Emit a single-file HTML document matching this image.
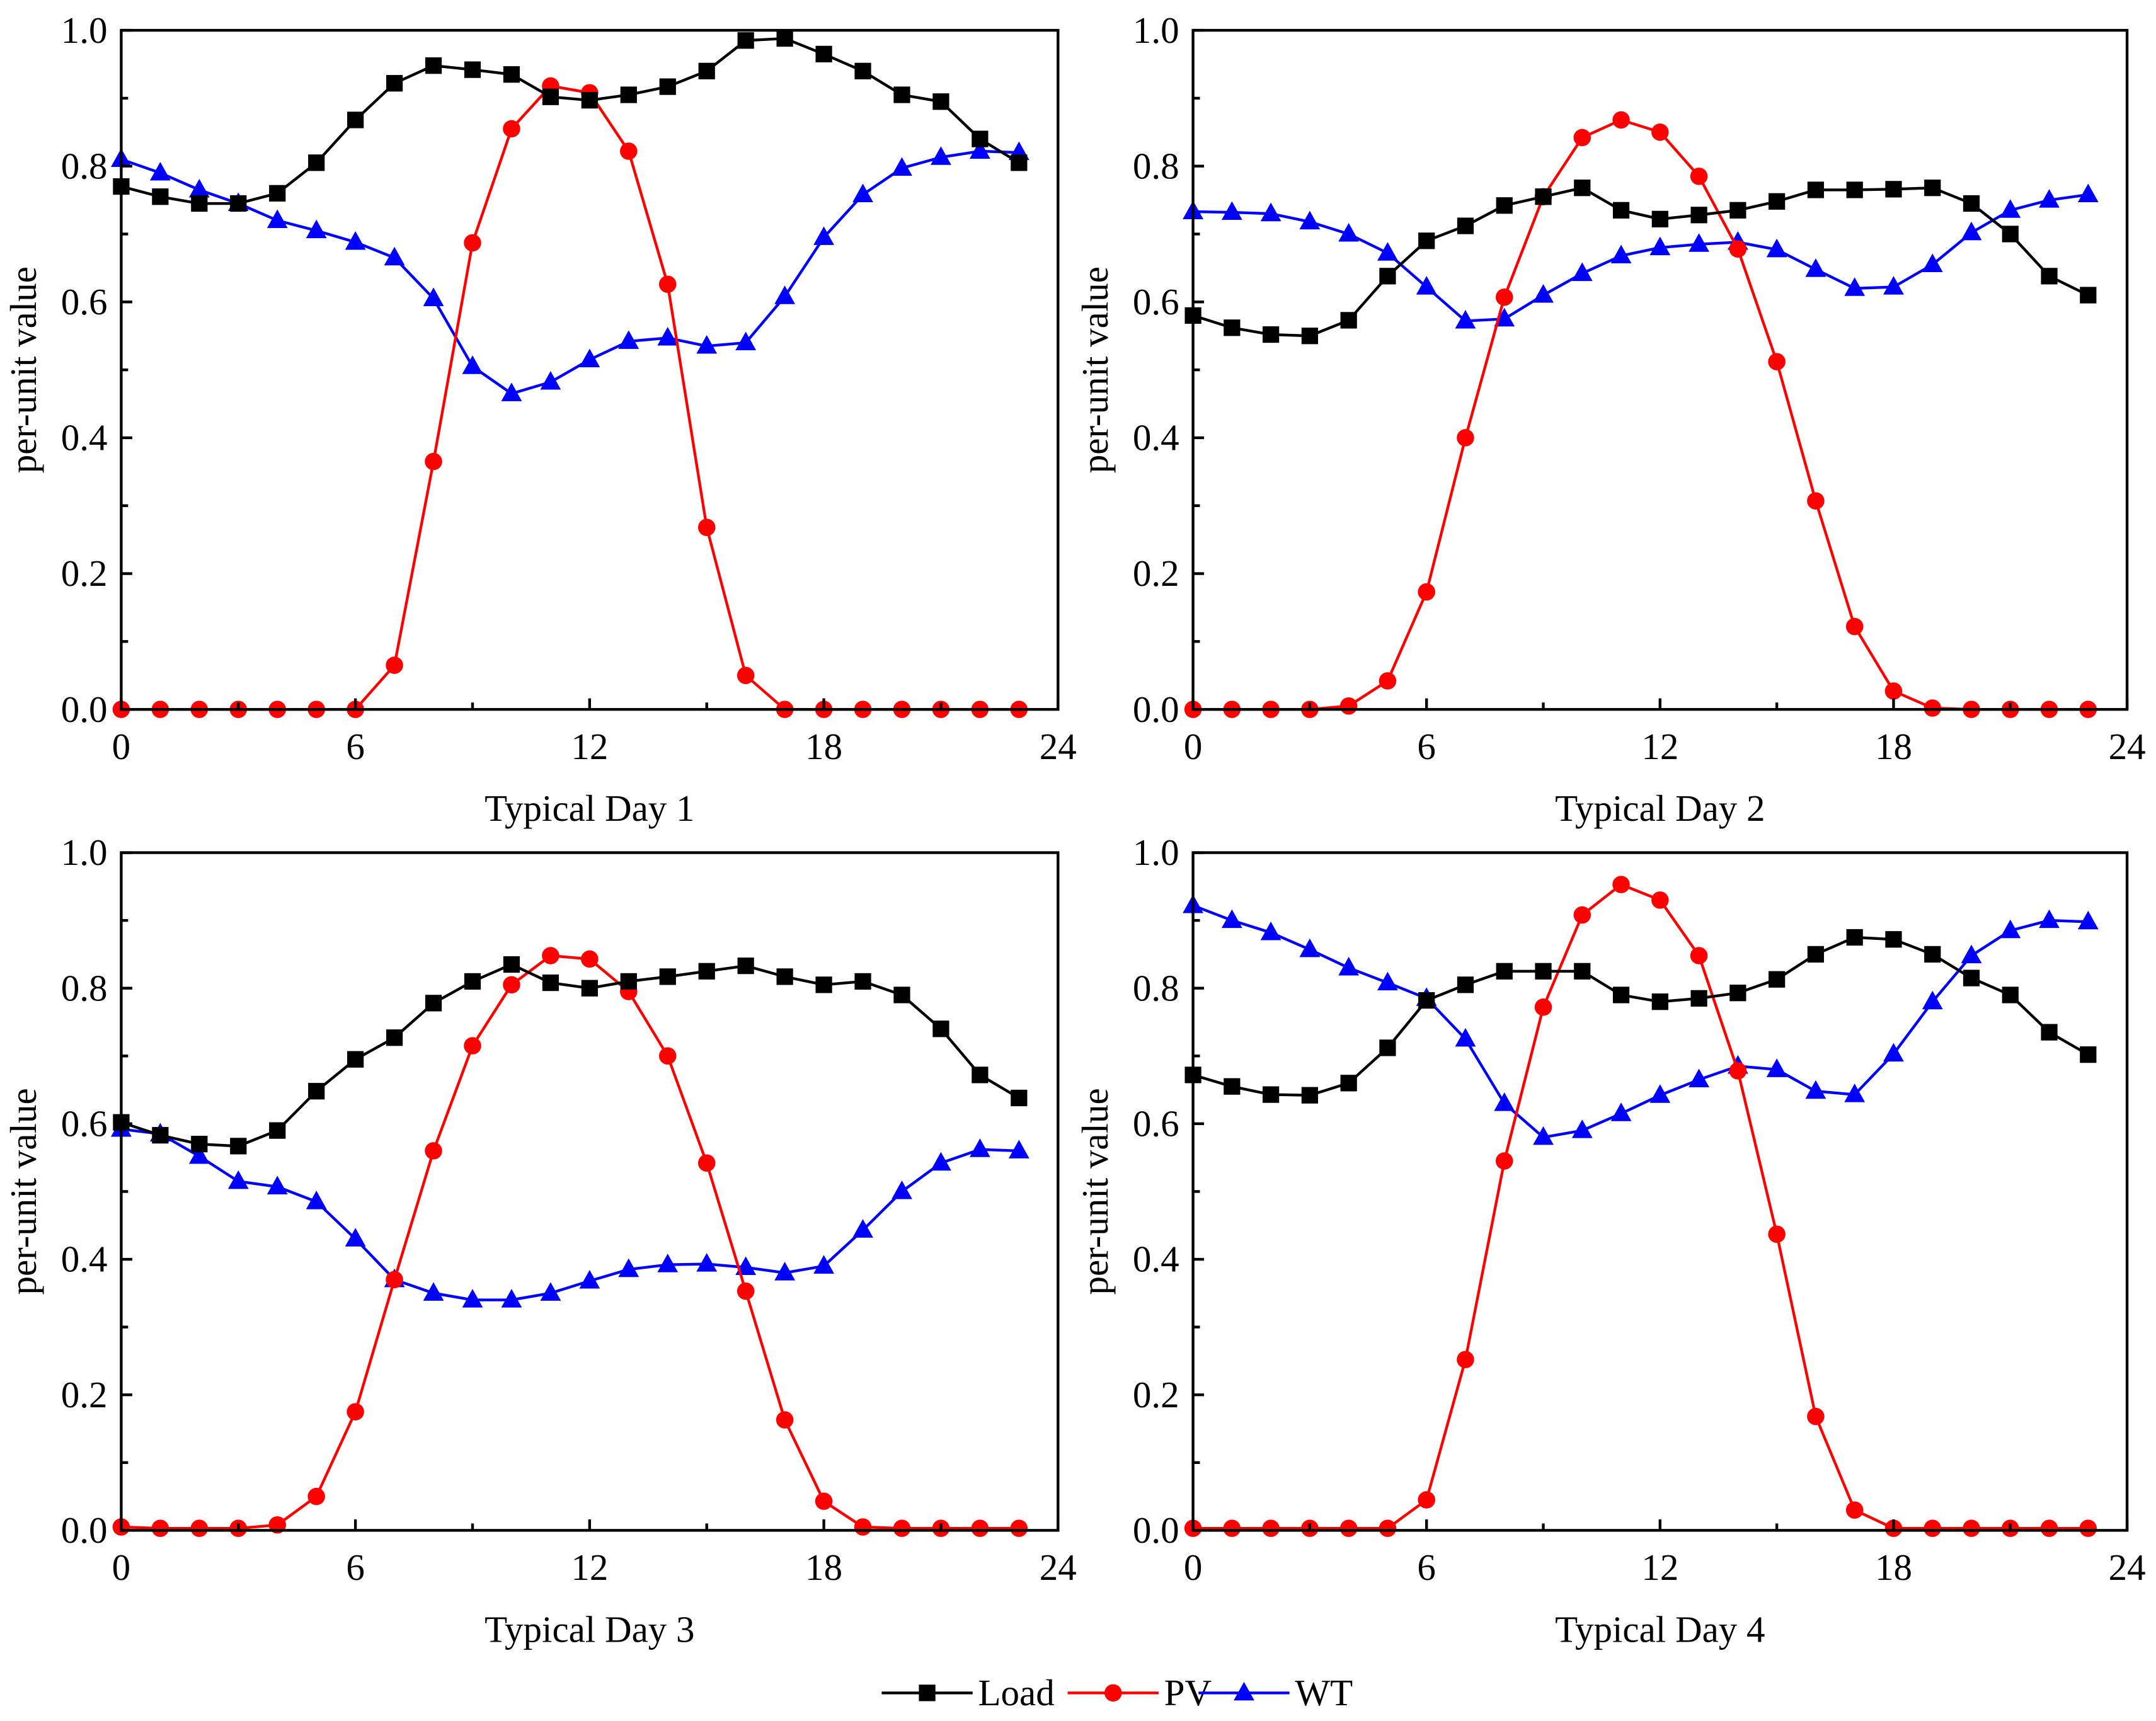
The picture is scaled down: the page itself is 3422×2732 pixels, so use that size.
<!DOCTYPE html>
<html><head><meta charset="utf-8"><style>
html,body{margin:0;padding:0;background:#fff}
svg{display:block}
text{font-family:"Liberation Serif",serif;fill:#000}
</style></head><body>
<svg id="chart" width="3422" height="2732" viewBox="0 0 1565 1249.4" preserveAspectRatio="none" xmlns="http://www.w3.org/2000/svg"></svg>
<script>
const hours=[0,1,2,3,4,5,6,7,8,9,10,11,12,13,14,15,16,17,18,19,20,21,22,23];
const xTicks=[0,6,12,18,24];
const yTicks=[0,0.2,0.4,0.6,0.8,1.0];
const yTickLabels=["0.0","0.2","0.4","0.6","0.8","1.0"];
const titles=["Typical Day 1","Typical Day 2","Typical Day 3","Typical Day 4"];
const load1=[0.77,0.755,0.745,0.745,0.76,0.805,0.868,0.922,0.948,0.942,0.935,0.902,0.897,0.905,0.917,0.94,0.985,0.988,0.965,0.94,0.905,0.895,0.84,0.805];
const pv1=[0,0,0,0,0,0,0,0.065,0.365,0.687,0.855,0.918,0.908,0.822,0.626,0.268,0.05,0,0,0,0,0,0,0];
const wt1=[0.81,0.79,0.765,0.745,0.72,0.705,0.688,0.665,0.605,0.505,0.465,0.482,0.515,0.542,0.547,0.535,0.54,0.608,0.695,0.758,0.797,0.813,0.822,0.82];
const load2=[0.58,0.562,0.552,0.55,0.573,0.638,0.69,0.712,0.742,0.755,0.768,0.735,0.722,0.728,0.735,0.748,0.765,0.765,0.766,0.768,0.745,0.7,0.638,0.61];
const pv2=[0,0,0,0,0.005,0.042,0.173,0.4,0.607,0.755,0.842,0.868,0.85,0.785,0.678,0.512,0.307,0.122,0.027,0.002,0,0,0,0];
const wt2=[0.733,0.732,0.73,0.718,0.7,0.672,0.622,0.572,0.575,0.61,0.642,0.668,0.68,0.685,0.688,0.677,0.648,0.62,0.622,0.655,0.702,0.735,0.75,0.758];
const load3=[0.602,0.583,0.57,0.567,0.59,0.648,0.695,0.727,0.778,0.81,0.835,0.808,0.8,0.81,0.817,0.825,0.833,0.817,0.805,0.81,0.79,0.74,0.672,0.638];
const pv3=[0.005,0.003,0.003,0.003,0.008,0.05,0.175,0.37,0.56,0.715,0.805,0.848,0.843,0.795,0.7,0.542,0.353,0.163,0.043,0.005,0.003,0.003,0.003,0.003];
const wt3=[0.592,0.585,0.552,0.515,0.507,0.485,0.43,0.37,0.35,0.34,0.34,0.35,0.368,0.385,0.392,0.393,0.388,0.38,0.39,0.443,0.5,0.542,0.562,0.56];
const load4=[0.672,0.655,0.643,0.642,0.66,0.712,0.782,0.805,0.825,0.825,0.825,0.79,0.78,0.785,0.793,0.813,0.85,0.875,0.872,0.85,0.815,0.79,0.735,0.702];
const pv4=[0.003,0.003,0.003,0.003,0.003,0.003,0.045,0.252,0.545,0.772,0.908,0.953,0.93,0.848,0.678,0.437,0.168,0.03,0.003,0.003,0.003,0.003,0.003,0.003];
const wt4=[0.922,0.9,0.882,0.857,0.83,0.808,0.785,0.725,0.63,0.58,0.59,0.615,0.642,0.665,0.685,0.68,0.648,0.643,0.703,0.78,0.848,0.885,0.9,0.898];
const loads=[load1,load2,load3,load4], pvs=[pv1,pv2,pv3,pv4], wts=[wt1,wt2,wt3,wt4];

const NS="http://www.w3.org/2000/svg";
const svg=document.getElementById('chart');
function mk(tag,attrs,parent){const e=document.createElementNS(NS,tag);for(const k in attrs)e.setAttribute(k,attrs[k]);(parent||svg).appendChild(e);return e;}
const panels=[{x0:88,x1:768,y0:22,y1:515},{x0:866,x1:1544,y0:22,y1:515},{x0:88,x1:768,y0:619,y1:1111},{x0:866,x1:1544,y0:619,y1:1111}];

function marker(g,type,x,y,color){
  let m;
  if(type==='sq'){m=mk('rect',{x:x-6,y:y-6,width:12,height:12,fill:color},g);}
  else if(type==='ci'){m=mk('circle',{cx:x,cy:y,r:6.3,fill:color},g);}
  else {m=mk('polygon',{points:`${x},${y-8} ${x-7.5},${y+5.5} ${x+7.5},${y+5.5}`,fill:color},g);}
  return m;
}

panels.forEach((p,i)=>{
  const g=mk('g',{});
  
  
  const sx=v=>p.x0+(v/24)*(p.x1-p.x0);
  const sy=v=>p.y1-v*(p.y1-p.y0);
  const series=[[wts[i],'#0000ff','tr','wt'],[pvs[i],'#ff0000','ci','pv'],[loads[i],'#000000','sq','load']];
  series.forEach(([d,c,t,n])=>{
    const sg=mk('g',{},g);
    
    
    const pts=d.map((v,k)=>sx(hours[k])+','+sy(v)).join(' ');
    const pl=mk('polyline',{points:pts,fill:'none',stroke:c,'stroke-width':2},sg);
    
    
    d.forEach((v,k)=>{const m=marker(sg,t,sx(hours[k]),sy(v),c);
      
      });
  });
  const fr=mk('rect',{x:p.x0,y:p.y0,width:p.x1-p.x0,height:p.y1-p.y0,fill:'none',stroke:'#000','stroke-width':2},g);
  
  
  yTicks.forEach((v,k)=>{
    mk('line',{x1:p.x0,x2:p.x0+8,y1:sy(v),y2:sy(v),stroke:'#000','stroke-width':2},g);
    if(k<yTicks.length-1){const mv=v+0.1;mk('line',{x1:p.x0,x2:p.x0+5,y1:sy(mv),y2:sy(mv),stroke:'#000','stroke-width':2},g);}
    const t=mk('text',{x:p.x0-10,y:sy(v)+9,'text-anchor':'end','font-size':27},g);
    t.textContent=yTickLabels[k];
    
    
  });
  xTicks.forEach((v,k)=>{
    mk('line',{x1:sx(v),x2:sx(v),y1:p.y1,y2:p.y1-8,stroke:'#000','stroke-width':2},g);
    if(k<xTicks.length-1){const mv=v+3;mk('line',{x1:sx(mv),x2:sx(mv),y1:p.y1,y2:p.y1-5,stroke:'#000','stroke-width':2},g);}
    const t=mk('text',{x:sx(v),y:p.y1+36,'text-anchor':'middle','font-size':27},g);
    t.textContent=String(v);
    
    
  });
  const yl=mk('text',{x:0,y:0,'text-anchor':'middle','font-size':27,transform:`translate(${p.x0-62},${(p.y0+p.y1)/2}) rotate(-90)`},g);
  yl.textContent='per-unit value';
  
  
  const xl=mk('text',{x:(p.x0+p.x1)/2,y:p.y1+81,'text-anchor':'middle','font-size':27},g);
  xl.textContent=titles[i];
  
  
});

const lg=mk('g',{});


const leg=[['Load','#000','sq',640],['PV','#ff0000','ci',775],['WT','#0000ff','tr',870]];
leg.forEach(([n,c,t,x])=>{
  const e=mk('g',{},lg);
  
  
  mk('line',{x1:x,x2:x+66,y1:1229,y2:1229,stroke:c,'stroke-width':2},e);
  marker(e,t,x+33,1229,c);
  const tx=mk('text',{x:x+70,y:1238,'font-size':27},e);
  tx.textContent=n;
});
</script>
</body></html>
